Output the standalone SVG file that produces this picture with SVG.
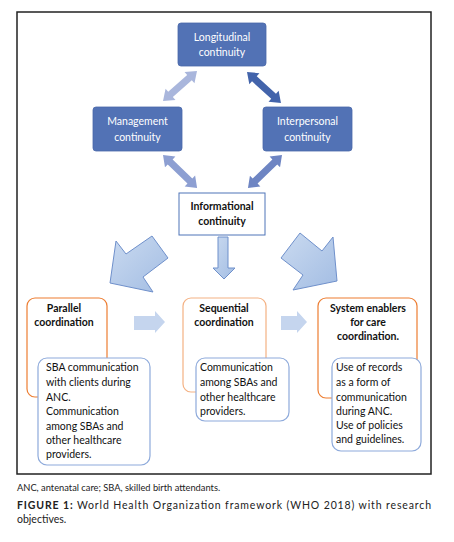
<svg xmlns="http://www.w3.org/2000/svg" width="454" height="542" viewBox="0 0 454 542">
<defs>
<style>
.t{font-family:Lato,"Open Sans","Noto Sans",sans-serif;}
.wt{fill:#ffffff;font-size:10.5px;text-anchor:middle;}
.bt{fill:#111111;font-size:10.5px;font-weight:bold;text-anchor:middle;}
.body{fill:#111111;font-size:10.5px;}
.blue{fill:#5272b5;stroke:#4a68aa;stroke-width:0.8;}
.inner{fill:#ffffff;stroke:#8eaadb;stroke-width:1.2;}
.outer{fill:#ffffff;stroke:#ed7d31;stroke-width:1.2;}
.outerl{fill:#ffffff;stroke:#f4b183;stroke-width:1.2;}
.big{fill:url(#g);stroke:#6f90cb;stroke-width:1;}
.harr{fill:#c5d5ee;}
</style>
<linearGradient id="g" x1="0" y1="0" x2="1" y2="1">
<stop offset="0" stop-color="#cadaf0"/>
<stop offset="1" stop-color="#a3bde3"/>
</linearGradient>
</defs>
<rect x="0" y="0" width="454" height="542" fill="#ffffff"/>
<rect x="17" y="12" width="414" height="462" fill="none" stroke="#222222" stroke-width="1.5"/>

<g id="connectors">
<polygon fill="#a9b6dc" transform="translate(197,71) rotate(138.6)" points="0,0 10,-7.5 10,-3.5 35.3,-3.5 35.3,-7.5 45.3,0 35.3,7.5 35.3,3.5 10,3.5 10,7.5"/>
<polygon fill="#4364ab" transform="translate(247,72) rotate(42.4)" points="0,0 10,-7.5 10,-3.5 36,-3.5 36,-7.5 46,0 36,7.5 36,3.5 10,3.5 10,7.5"/>
<polygon fill="#8d9fd2" transform="translate(163,155) rotate(44)" points="0,0 10,-7.5 10,-3.5 37.4,-3.5 37.4,-7.5 47.4,0 37.4,7.5 37.4,3.5 10,3.5 10,7.5"/>
<polygon fill="#6e85c3" transform="translate(282,155) rotate(135.9)" points="0,0 10,-7.5 10,-3.5 37.4,-3.5 37.4,-7.5 47.4,0 37.4,7.5 37.4,3.5 10,3.5 10,7.5"/>
<polygon class="big" points="218,237 228,237 228,268 235,268 224,279 213,268 218,268"/>
<polygon class="big" points="116,241 126,254 152,236 168,258 143,277 153,292 110,283"/>
<polygon class="big" points="300,233 322,251 333,237 337,281 293,290 303,275 281,258"/>
<polygon class="harr" points="134,316 155,316 155,311 165,322 155,333 155,330 134,330"/>
<polygon class="harr" points="281,316 297,316 297,311 307,322 297,333 297,330 281,330"/>
</g>

<g id="longitudinal">
<rect class="blue" x="178" y="23" width="88" height="43" rx="3"/>
<text class="t wt" x="222" y="41">Longitudinal</text>
<text class="t wt" x="222" y="56">continuity</text>
</g>
<g id="management">
<rect class="blue" x="93" y="107" width="89" height="44" rx="3"/>
<text class="t wt" x="137.5" y="125">Management</text>
<text class="t wt" x="137.5" y="141">continuity</text>
</g>
<g id="interpersonal">
<rect class="blue" x="263" y="107" width="89" height="44" rx="3"/>
<text class="t wt" x="307.5" y="125">Interpersonal</text>
<text class="t wt" x="307.5" y="141">continuity</text>
</g>
<g id="informational">
<rect x="179" y="193" width="86" height="42" fill="#ffffff" stroke="#4f74b8" stroke-width="1"/>
<text class="t bt" x="222" y="210">Informational</text>
<text class="t bt" x="222" y="225">continuity</text>
</g>

<g id="parallel">
<rect class="outer" x="27" y="298" width="80" height="99" rx="8"/>
<text class="t bt" x="64" y="312">Parallel</text>
<text class="t bt" x="64" y="326">coordination</text>
</g>
<g id="parallel-detail">
<rect class="inner" x="38" y="358" width="112" height="107" rx="9"/>
<text class="t body" x="46" y="371">SBA communication</text>
<text class="t body" x="46" y="386">with clients during</text>
<text class="t body" x="46" y="401">ANC.</text>
<text class="t body" x="46" y="415">Communication</text>
<text class="t body" x="46" y="430">among SBAs and</text>
<text class="t body" x="46" y="444">other healthcare</text>
<text class="t body" x="46" y="458">providers.</text>
</g>

<g id="sequential">
<rect class="outerl" x="183" y="298" width="83" height="94" rx="8"/>
<text class="t bt" x="224" y="312">Sequential</text>
<text class="t bt" x="224" y="326">coordination</text>
</g>
<g id="sequential-detail">
<rect class="inner" x="196" y="358" width="93" height="63" rx="9"/>
<text class="t body" x="200" y="371">Communication</text>
<text class="t body" x="200" y="386">among SBAs and</text>
<text class="t body" x="200" y="401">other healthcare</text>
<text class="t body" x="200" y="415">providers.</text>
</g>

<g id="system">
<rect class="outer" x="318" y="298" width="99" height="100" rx="8"/>
<text class="t bt" x="368" y="312">System enablers</text>
<text class="t bt" x="368" y="326">for care</text>
<text class="t bt" x="368" y="340">coordination.</text>
</g>
<g id="system-detail">
<rect class="inner" x="332" y="358" width="89" height="93" rx="9"/>
<text class="t body" x="336" y="371">Use of records</text>
<text class="t body" x="336" y="386">as a form of</text>
<text class="t body" x="336" y="401">communication</text>
<text class="t body" x="336" y="415">during ANC.</text>
<text class="t body" x="336" y="429">Use of policies</text>
<text class="t body" x="336" y="443">and guidelines.</text>
</g>

<text class="t" x="17" y="491" font-size="9.3" fill="#222222">ANC, antenatal care; SBA, skilled birth attendants.</text>
<text class="t" x="17" y="509" font-size="10.5" fill="#222222" textLength="414" lengthAdjust="spacing"><tspan font-weight="bold">FIGURE 1:</tspan> World Health Organization framework (WHO 2018) with research</text>
<text class="t" x="17" y="523" font-size="10.5" fill="#222222">objectives.</text>
</svg>
